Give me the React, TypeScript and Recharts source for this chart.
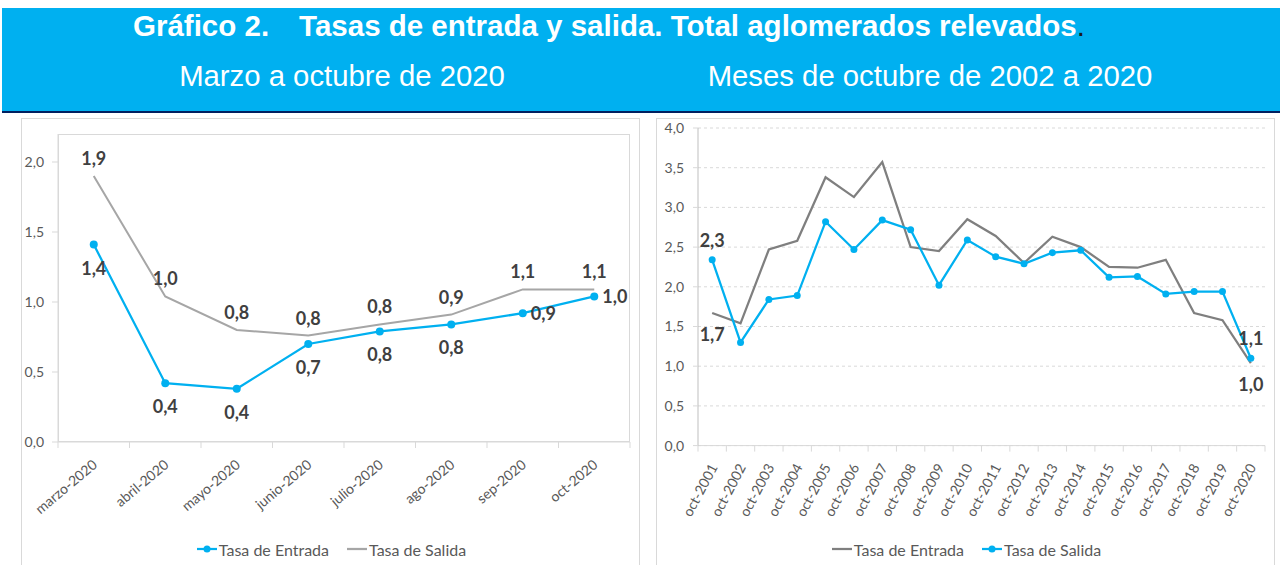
import React from "react";
import { LineChart, Line, XAxis, YAxis, CartesianGrid, Legend } from "recharts";

// Marzo a octubre de 2020
const MESES = [
  "marzo-2020",
  "abril-2020",
  "mayo-2020",
  "junio-2020",
  "julio-2020",
  "ago-2020",
  "sep-2020",
  "oct-2020",
];
const ENTRADA_2020 = [1.41, 0.42, 0.38, 0.7, 0.79, 0.84, 0.92, 1.04];
const SALIDA_2020 = [1.9, 1.04, 0.8, 0.76, 0.84, 0.91, 1.09, 1.09];
const TICKS_2020 = [0, 0.5, 1, 1.5, 2];

// Meses de octubre
const ANIOS = [
  "oct-2001", "oct-2002", "oct-2003", "oct-2004", "oct-2005",
  "oct-2006", "oct-2007", "oct-2008", "oct-2009", "oct-2010",
  "oct-2011", "oct-2012", "oct-2013", "oct-2014", "oct-2015",
  "oct-2016", "oct-2017", "oct-2018", "oct-2019", "oct-2020",
];
const ENTRADA_OCT = [
  1.67, 1.54, 2.47, 2.58, 3.38, 3.13, 3.57, 2.5, 2.45, 2.85,
  2.64, 2.3, 2.63, 2.5, 2.25, 2.24, 2.34, 1.67, 1.58, 1.04,
];
const SALIDA_OCT = [
  2.34, 1.3, 1.84, 1.89, 2.82, 2.47, 2.84, 2.72, 2.02, 2.59,
  2.38, 2.29, 2.43, 2.46, 2.12, 2.13, 1.91, 1.94, 1.94, 1.1,
];
const TICKS_OCT = [0, 0.5, 1, 1.5, 2, 2.5, 3, 3.5, 4];

const BLUE = "#00B0F0";
const GRAY_LIGHT = "#A6A6A6";
const GRAY_DARK = "#7F7F7F";
const AXIS = "#D9D9D9";
const TXT = "#595959";
const LBL = "#404040";
const FONT = "Lato, 'Open Sans', sans-serif";
const HEAD_FONT = "'Liberation Sans', Arial, sans-serif";

const fmt = (v: number) => v.toFixed(1).replace(".", ",");

const data2020 = MESES.map((m, i) => ({
  m,
  entrada: ENTRADA_2020[i],
  salida: SALIDA_2020[i],
}));
const dataOct = ANIOS.map((m, i) => ({
  m,
  entrada: ENTRADA_OCT[i],
  salida: SALIDA_OCT[i],
}));

// chart geometry
const W = 619;
const H = 447;
const L_PLOT_W = 572;
const R_PLOT_W = 567;
const L_HALF = L_PLOT_W / MESES.length / 2;
const R_HALF = R_PLOT_W / ANIOS.length / 2;

function XTick(props: any) {
  const { x, y, payload, index, half, count, angle, dx, dy } = props;
  return (
    <g>
      <line x1={x - half} x2={x - half} y1={y} y2={y + 6} stroke={AXIS} />
      {index === count - 1 && (
        <line x1={x + half} x2={x + half} y1={y} y2={y + 6} stroke={AXIS} />
      )}
      <text
        transform={`translate(${x + dx},${y + dy}) rotate(${angle})`}
        textAnchor="end"
        dominantBaseline="central"
        fontSize={14}
        fontFamily={FONT}
        fill={TXT}
      >
        {payload.value}
      </text>
    </g>
  );
}

function LegendBox({ items }: { items: { label: string; color: string; dot: boolean }[] }) {
  return (
    <div
      style={{
        display: "flex",
        justifyContent: "center",
        alignItems: "center",
        height: 24,
        paddingLeft: 12,
        gap: 18,
        fontFamily: FONT,
        fontSize: 16,
        color: TXT,
      }}
    >
      {items.map((it) => (
        <span key={it.label} style={{ display: "flex", alignItems: "center" }}>
          <svg width={20} height={10} style={{ marginRight: 2 }}>
            <line x1={0} x2={20} y1={5} y2={5} stroke={it.color} strokeWidth={2.25} />
            {it.dot && <circle cx={10} cy={5} r={3.5} fill={it.color} />}
          </svg>
          {it.label}
        </span>
      ))}
    </div>
  );
}

const labelStyle = {
  fontSize: 18,
  fontWeight: 700,
  fontFamily: FONT,
  fill: LBL,
};

const entrada2020Label = (p: any) => {
  const right = p.index >= 6;
  return (
    <text
      key={`e${p.index}`}
      x={right ? p.x + 8 : p.x}
      y={right ? p.y : p.y + 23}
      textAnchor={right ? "start" : "middle"}
      dominantBaseline="central"
      {...labelStyle}
    >
      {fmt(p.value)}
    </text>
  );
};

const salida2020Label = (p: any) => (
  <text
    key={`s${p.index}`}
    x={p.x}
    y={p.y - 18}
    textAnchor="middle"
    dominantBaseline="central"
    {...labelStyle}
  >
    {fmt(p.value)}
  </text>
);

const edgeLabel = (offset: number) => (p: any) => {
  if (p.index !== 0 && p.index !== ANIOS.length - 1) return null;
  return (
    <text
      key={`l${offset}${p.index}`}
      x={p.x}
      y={p.y + offset}
      textAnchor="middle"
      dominantBaseline="central"
      {...labelStyle}
    >
      {fmt(p.value)}
    </text>
  );
};

function Panel({ left, children }: { left: number; children: React.ReactNode }) {
  return (
    <div style={{ position: "absolute", left, top: 118, width: W, height: H }}>
      <div
        style={{
          position: "absolute",
          left: 0,
          top: 0,
          width: W,
          height: 460,
          border: `1px solid ${AXIS}`,
          boxSizing: "border-box",
        }}
      />
      {children}
    </div>
  );
}

export default function App() {
  return (
    <div
      style={{
        position: "absolute",
        left: 0,
        top: 0,
        width: 1280,
        height: 565,
        overflow: "hidden",
        background: "#fff",
      }}
    >
      {/* encabezado */}
      <div
        style={{
          position: "absolute",
          left: 2,
          top: 8,
          width: 1278,
          height: 103,
          background: BLUE,
          borderBottom: "2px solid #002060",
        }}
      />
      <div
        style={{
          position: "absolute",
          left: 133,
          top: 11,
          whiteSpace: "nowrap",
          fontFamily: HEAD_FONT,
          fontSize: 29.5,
          lineHeight: "29.5px",
          fontWeight: 700,
          color: "#fff",
        }}
      >
        Gráfico 2.
        <span style={{ marginLeft: 30 }}>
          Tasas de entrada y salida. Total aglomerados relevados
        </span>
        <span style={{ fontWeight: 400, color: "#1a1a1a" }}>.</span>
      </div>
      <div
        style={{
          position: "absolute",
          left: 92,
          width: 500,
          top: 61,
          textAlign: "center",
          fontFamily: HEAD_FONT,
          fontSize: 29.3,
          lineHeight: "29.3px",
          color: "#fff",
        }}
      >
        Marzo a octubre de 2020
      </div>
      <div
        style={{
          position: "absolute",
          left: 680,
          width: 500,
          top: 61,
          textAlign: "center",
          fontFamily: HEAD_FONT,
          fontSize: 29.3,
          lineHeight: "29.3px",
          color: "#fff",
        }}
      >
        Meses de octubre de 2002 a 2020
      </div>

      {/* panel izquierdo */}
      <Panel left={21}>
        <div style={{ position: "absolute", left: 0, top: 0 }}>
          <LineChart
            width={W}
            height={H}
            data={data2020}
            margin={{ top: 16, right: 10, left: 0, bottom: 4 }}
          >
            <XAxis
              dataKey="m"
              height={95}
              padding={{ left: L_HALF, right: L_HALF }}
              axisLine={{ stroke: AXIS }}
              tickLine={false}
              tickSize={0}
              tickMargin={0}
              interval={0}
              tick={(p: any) => (
                <XTick {...p} half={L_HALF} count={MESES.length} angle={-40} dx={1} dy={20} />
              )}
            />
            <YAxis
              width={37}
              domain={[0, 2.2]}
              ticks={TICKS_2020}
              tickFormatter={fmt}
              axisLine={{ stroke: AXIS }}
              tickLine={{ stroke: AXIS }}
              tickSize={6}
              tickMargin={8}
              tick={{ fill: TXT, fontSize: 14, fontFamily: FONT }}
            />
            <Legend
              verticalAlign="bottom"
              content={() => (
                <LegendBox
                  items={[
                    { label: "Tasa de Entrada", color: BLUE, dot: true },
                    { label: "Tasa de Salida", color: GRAY_LIGHT, dot: false },
                  ]}
                />
              )}
            />
            <Line
              dataKey="salida"
              stroke={GRAY_LIGHT}
              strokeWidth={2}
              dot={false}
              activeDot={false}
              label={salida2020Label}
              isAnimationActive={false}
            />
            <Line
              dataKey="entrada"
              stroke={BLUE}
              strokeWidth={2.25}
              dot={{ r: 4, fill: BLUE, stroke: BLUE, strokeWidth: 0 }}
              activeDot={false}
              label={entrada2020Label}
              isAnimationActive={false}
            />
          </LineChart>
        </div>
        <div
          style={{
            position: "absolute",
            left: 37,
            top: 16,
            width: L_PLOT_W,
            height: 308,
            border: `1px solid ${AXIS}`,
            boxSizing: "border-box",
            pointerEvents: "none",
          }}
        />
      </Panel>

      {/* panel derecho */}
      <Panel left={656}>
        <div style={{ position: "absolute", left: 0, top: 0 }}>
          <LineChart
            width={W}
            height={H}
            data={dataOct}
            margin={{ top: 10, right: 10, left: 0, bottom: 4 }}
          >
            <CartesianGrid vertical={false} stroke={AXIS} strokeDasharray="3 3" />
            <XAxis
              dataKey="m"
              height={91.4}
              padding={{ left: R_HALF, right: R_HALF }}
              axisLine={{ stroke: AXIS }}
              tickLine={false}
              tickSize={0}
              tickMargin={0}
              interval={0}
              tick={(p: any) => (
                <XTick {...p} half={R_HALF} count={ANIOS.length} angle={-62} dx={1} dy={19} />
              )}
            />
            <YAxis
              width={42}
              domain={[0, 4]}
              ticks={TICKS_OCT}
              tickFormatter={fmt}
              axisLine={{ stroke: "#BFBFBF" }}
              tickLine={{ stroke: AXIS }}
              tickSize={5}
              tickMargin={9}
              tick={{ fill: TXT, fontSize: 14, fontFamily: FONT }}
            />
            <Legend
              verticalAlign="bottom"
              content={() => (
                <LegendBox
                  items={[
                    { label: "Tasa de Entrada", color: GRAY_DARK, dot: false },
                    { label: "Tasa de Salida", color: BLUE, dot: true },
                  ]}
                />
              )}
            />
            <Line
              dataKey="entrada"
              stroke={GRAY_DARK}
              strokeWidth={2.25}
              dot={false}
              activeDot={false}
              label={edgeLabel(21)}
              isAnimationActive={false}
            />
            <Line
              dataKey="salida"
              stroke={BLUE}
              strokeWidth={2.25}
              dot={{ r: 3.5, fill: BLUE, stroke: BLUE, strokeWidth: 0 }}
              activeDot={false}
              label={edgeLabel(-20)}
              isAnimationActive={false}
            />
          </LineChart>
        </div>
      </Panel>
    </div>
  );
}
